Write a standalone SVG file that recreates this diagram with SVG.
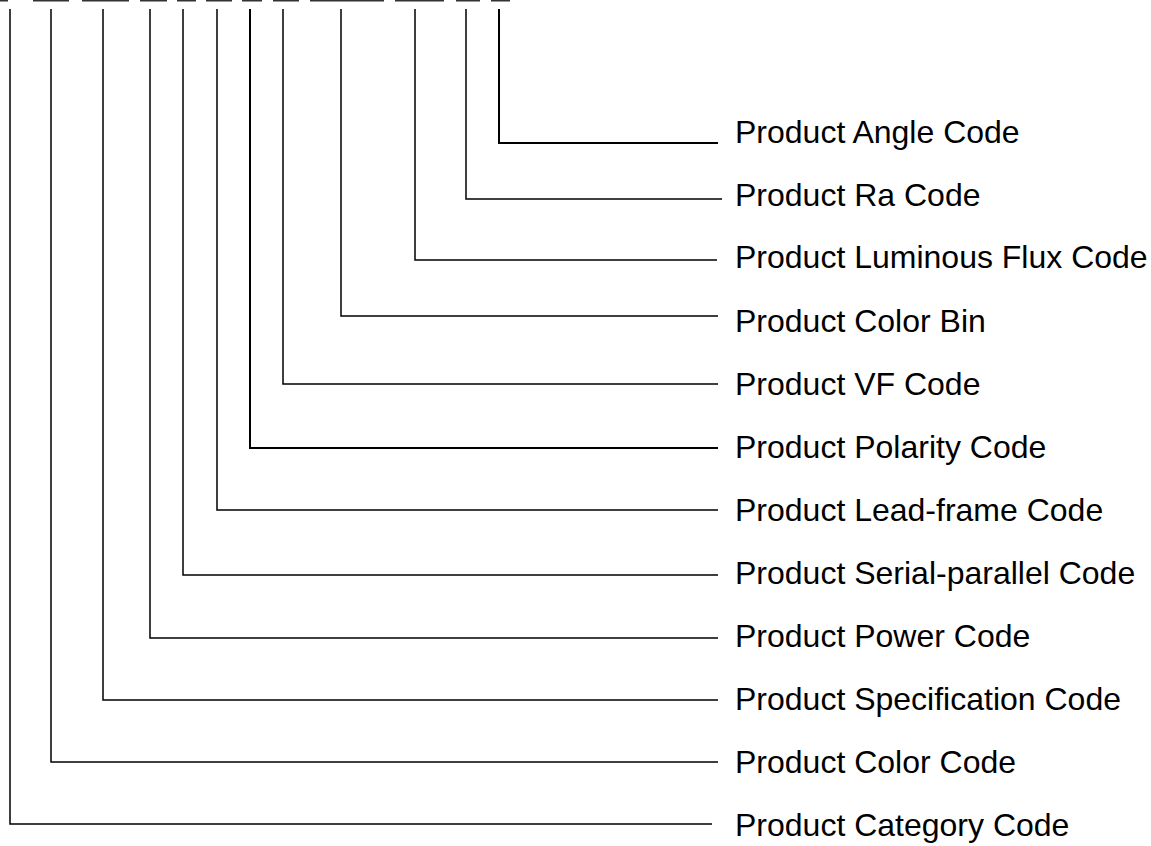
<svg xmlns="http://www.w3.org/2000/svg" width="1151" height="846" viewBox="0 0 1151 846">
<style>
.lbl{font-family:"Liberation Sans",Arial,sans-serif;font-size:32px;fill:#000}
.c{fill:none;stroke:#000;stroke-width:1.5}
.d{fill:#333}
</style>
<rect width="1151" height="846" fill="#fff"/>
<g id="code-dashes">
<rect class="d" x="0" y="0" width="8" height="1.5"/>
<rect class="d" x="33" y="0" width="36" height="1.5"/>
<rect class="d" x="82" y="0" width="47" height="1.5"/>
<rect class="d" x="140" y="0" width="27" height="1.5"/>
<rect class="d" x="177" y="0" width="19" height="1.5"/>
<rect class="d" x="206" y="0" width="26" height="1.5"/>
<rect class="d" x="242" y="0" width="20" height="1.5"/>
<rect class="d" x="273" y="0" width="26" height="1.5"/>
<rect class="d" x="310" y="0" width="74" height="1.5"/>
<rect class="d" x="395" y="0" width="49" height="1.5"/>
<rect class="d" x="456" y="0" width="24" height="1.5"/>
<rect class="d" x="491" y="0" width="19" height="1.5"/>
</g>
<g id="connectors">
<polyline class="c" style="stroke-width:2" points="499,9 499,143 718,143"/>
<polyline class="c" points="466,9 466,199 722,199"/>
<polyline class="c" points="415,9 415,260 717,260"/>
<polyline class="c" points="341,9 341,316 718,316"/>
<polyline class="c" points="283,9 283,384 718,384"/>
<polyline class="c" style="stroke-width:2" points="250,9 250,448 718,448"/>
<polyline class="c" points="217,9 217,510 718,510"/>
<polyline class="c" points="183,9 183,575 718,575"/>
<polyline class="c" points="150,9 150,638 718,638"/>
<polyline class="c" points="103,9 103,700 718,700"/>
<polyline class="c" points="51,9 51,762 718,762"/>
<polyline class="c" points="10,9 10,824 712,824"/>
</g>
<g id="n-angle"><text class="lbl" x="735" y="143">Product Angle Code</text></g>
<g id="n-ra"><text class="lbl" x="735" y="206">Product Ra Code</text></g>
<g id="n-flux"><text class="lbl" x="735" y="268">Product Luminous Flux Code</text></g>
<g id="n-bin"><text class="lbl" x="735" y="332">Product Color Bin</text></g>
<g id="n-vf"><text class="lbl" x="735" y="395">Product VF Code</text></g>
<g id="n-polarity"><text class="lbl" x="735" y="458">Product Polarity Code</text></g>
<g id="n-leadframe"><text class="lbl" x="735" y="521">Product Lead-frame Code</text></g>
<g id="n-serial"><text class="lbl" x="735" y="584">Product Serial-parallel Code</text></g>
<g id="n-power"><text class="lbl" x="735" y="647">Product Power Code</text></g>
<g id="n-spec"><text class="lbl" x="735" y="710">Product Specification Code</text></g>
<g id="n-color"><text class="lbl" x="735" y="773">Product Color Code</text></g>
<g id="n-category"><text class="lbl" x="735" y="836">Product Category Code</text></g>
</svg>
